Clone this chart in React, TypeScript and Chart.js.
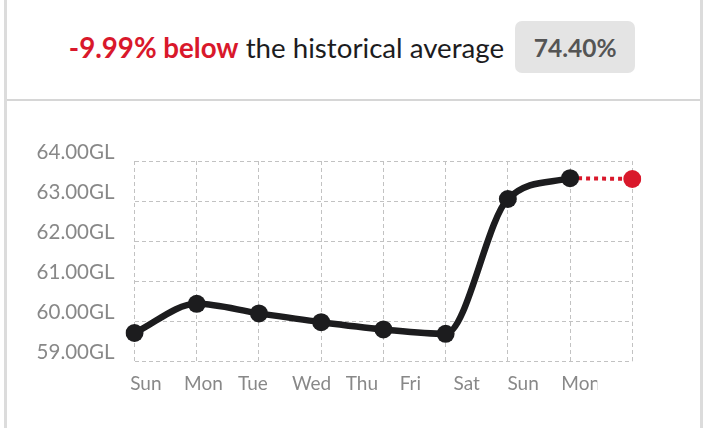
import React, { useEffect, useRef } from "react";
import { Chart, registerables } from "chart.js";

Chart.register(...registerables);

const dayLabels = ["Sun", "Mon", "Tue", "Wed", "Thu", "Fri", "Sat", "Sun", "Mon"];
const actualValues: (number | null)[] = [59.7, 60.43, 60.19, 59.97, 59.79, 59.68, 63.05, 63.57, null];
const projectedValues: (number | null)[] = [null, null, null, null, null, null, null, 63.57, 63.55];
const yTickValues = [59, 60, 61, 62, 63, 64];
const labelSlots = [0, 1, 2, 3, 4, 5, 6, 7, 8];

const FONT = "Lato, 'Open Sans', sans-serif";

const clipLabelPlugin = {
  id: "clipLastLabel",
  beforeDraw(chart: any) {
    const { ctx, width, height, chartArea } = chart;
    const cx = chartArea.right - 35;
    ctx.save();
    ctx.beginPath();
    ctx.rect(0, 0, width, height);
    ctx.rect(cx, chartArea.bottom + 2, width - cx, height - chartArea.bottom - 2);
    ctx.clip("evenodd");
  },
  afterDraw(chart: any) {
    chart.ctx.restore();
  },
};

function LineChart() {
  const ref = useRef<HTMLCanvasElement | null>(null);
  useEffect(() => {
    if (!ref.current) return;
    const chart = new Chart(ref.current, {
      type: "line",
      data: {
        labels: dayLabels,
        datasets: [
          {
            data: actualValues,
            borderColor: "#1c1c1e",
            borderWidth: 6.5,
            cubicInterpolationMode: "monotone",
            pointRadius: 9,
            pointHoverRadius: 9,
            pointBackgroundColor: "#1c1c1e",
            pointBorderWidth: 0,
            fill: false,
          },
          {
            data: projectedValues,
            borderColor: "#d9182b",
            borderWidth: 4,
            borderDash: [4, 4],
            tension: 0,
            pointRadius: projectedValues.map((v, i) => (i === projectedValues.length - 1 ? 9 : 0)),
            pointBackgroundColor: "#d9182b",
            pointBorderWidth: 0,
            fill: false,
          },
        ],
      },
      options: {
        animation: false,
        responsive: false,
        maintainAspectRatio: false,
        events: [],
        layout: { padding: { left: 0, right: 71.7, top: 161, bottom: 37 } },
        plugins: { legend: { display: false }, tooltip: { enabled: false } },
        scales: {
          x: {
            type: "category",
            offset: false,
            grid: { color: "#c2c2c2", lineWidth: 1, drawTicks: false },
            border: { display: false, dash: [4, 3] },
            ticks: { display: false },
            afterFit: (s: any) => {
              s.height = 0;
            },
          } as any,
          x2: {
            type: "linear",
            position: "bottom",
            min: 0.08,
            max: 9.316,
            grid: { display: false, drawTicks: false },
            border: { display: false },
            afterBuildTicks: (s: any) => {
              s.ticks = labelSlots.map((v) => ({ value: v }));
            },
            afterFit: (s: any) => {
              s.height = 30;
            },
            ticks: {
              autoSkip: false,
              align: "start",
              maxRotation: 0,
              padding: 11,
              color: "#888888",
              font: { family: FONT, size: 19 },
              callback: (v: any) => dayLabels[Number(v)] ?? "",
            },
          } as any,
          y: {
            min: 59,
            max: 64,
            afterBuildTicks: (s: any) => {
              s.ticks = yTickValues.map((v) => ({ value: v }));
            },
            afterFit: (s: any) => {
              s.width = 134.5;
            },
            grid: { color: "#c2c2c2", lineWidth: 1, drawTicks: false },
            border: { display: false, dash: [4, 3] },
            ticks: {
              padding: 20,
              labelOffset: -8.5,
              color: "#888888",
              font: { family: FONT, size: 20.5 },
              callback: (v: any) => Number(v).toFixed(2) + "GL",
            },
          } as any,
        },
      },
      plugins: [clipLabelPlugin],
    });
    return () => chart.destroy();
  }, []);
  return (
    <canvas
      ref={ref}
      width={704}
      height={428}
      style={{ position: "absolute", left: 0, top: 0, width: 704, height: 428 }}
    />
  );
}

export default function App() {
  return (
    <div
      style={{
        position: "fixed",
        left: 0,
        top: 0,
        width: 704,
        height: 428,
        background: "#ffffff",
        overflow: "hidden",
        fontFamily: FONT,
      }}
    >
      <div style={{ position: "absolute", left: 4, top: 0, width: 3, height: 428, background: "#dcdcdc" }} />
      <div style={{ position: "absolute", left: 700, top: 0, width: 3, height: 428, background: "#dcdcdc" }} />
      <div style={{ position: "absolute", left: 7, top: 99, width: 693, height: 2, background: "#d6d6d6" }} />
      <div
        style={{
          position: "absolute",
          left: 0,
          top: 21,
          width: 704,
          height: 52,
          display: "flex",
          alignItems: "center",
          justifyContent: "center",
          gap: 11,
        }}
      >
        <span style={{ fontSize: 27.7, color: "#1c1c1e", whiteSpace: "nowrap" }}>
          <span style={{ color: "#d9182b", fontWeight: 700 }}>-9.99% below</span> the historical average
        </span>
        <span
          style={{
            background: "#e4e4e4",
            borderRadius: 7,
            width: 120,
            height: 52,
            display: "flex",
            alignItems: "center",
            justifyContent: "center",
            fontSize: 24.5,
            fontWeight: 700,
            color: "#555555",
          }}
        >
          74.40%
        </span>
      </div>
      <LineChart />
    </div>
  );
}
